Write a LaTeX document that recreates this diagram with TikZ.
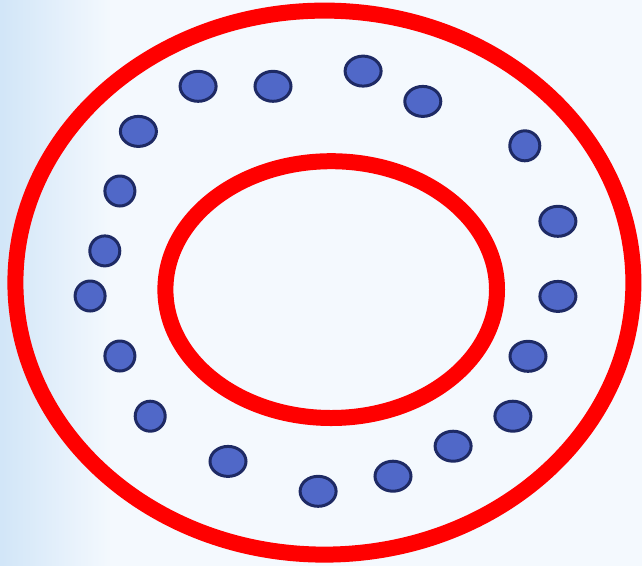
\documentclass[tikz,border=0pt]{standalone}
\usetikzlibrary{shapes.geometric,fadings}
\definecolor{bgbase}{RGB}{244,249,254}
\definecolor{bgblue}{RGB}{210,230,248}
\definecolor{ringred}{RGB}{255,0,0}
\definecolor{dotfill}{RGB}{80,104,200}
\definecolor{dotline}{RGB}{30,42,100}
\tikzfading[name=faderight, left color=transparent!0, right color=transparent!100]
\tikzfading[name=fadeband, top color=transparent!100, middle color=transparent!30, bottom color=transparent!100]
\tikzset{
  ring/.style={ellipse, draw=ringred, line width=16pt, inner sep=0pt},
  dotw/.style={ellipse, draw=dotline, fill=dotfill, line width=3pt, inner sep=0pt, minimum width=36pt, minimum height=30pt},
  dotr/.style={ellipse, draw=dotline, fill=dotfill, line width=3pt, inner sep=0pt, minimum width=30pt, minimum height=30pt}
}
\begin{document}
\begin{tikzpicture}[x=1pt,y=-1pt]
\useasboundingbox (0,0) rectangle (642,566);
\fill[bgbase] (0,0) rectangle (642,566);
\fill[bgblue, path fading=fadeband] (0,470) rectangle (642,550);
\fill[bgblue, path fading=faderight] (0,0) rectangle (110,566);
\node[ring, minimum width=618pt, minimum height=544pt] (outer) at (324.4,282.6) {};
\node[ring, minimum width=331.6pt, minimum height=256.8pt] (inner) at (331.2,289.6) {};
\node[dotw] (d1) at (198.1,86.3) {};
\node[dotw] (d2) at (273.0,86.3) {};
\node[dotw] (d3) at (363.1,71.1) {};
\node[dotw] (d4) at (422.8,101.4) {};
\node[dotr] (d5) at (524.8,145.8) {};
\node[dotw] (d6) at (557.9,221.3) {};
\node[dotw] (d7) at (557.9,296.4) {};
\node[dotw] (d8) at (528.0,356.3) {};
\node[dotw] (d9) at (512.9,416.2) {};
\node[dotw] (d10) at (453.1,446.2) {};
\node[dotw] (d11) at (393.0,476.2) {};
\node[dotw] (d12) at (318.1,491.3) {};
\node[dotw] (d13) at (228.0,461.4) {};
\node[dotr] (d14) at (150.2,416.2) {};
\node[dotr] (d15) at (119.9,356.0) {};
\node[dotr] (d16) at (90.1,296.0) {};
\node[dotr] (d17) at (104.8,250.9) {};
\node[dotr] (d18) at (119.9,191.0) {};
\node[dotw] (d19) at (138.4,131.4) {};
\end{tikzpicture}
\end{document}
